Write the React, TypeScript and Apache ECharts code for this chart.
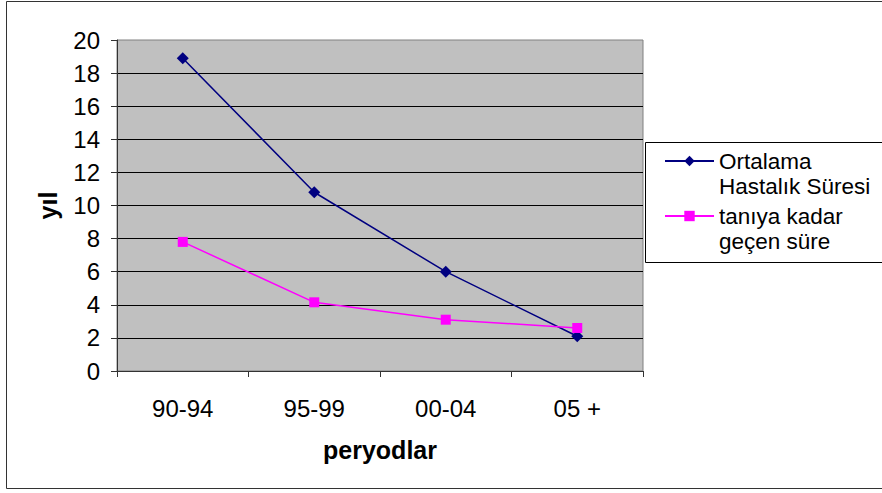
import React, { useEffect, useRef } from "react";
import * as echarts from "echarts";

const categories = ["90-94", "95-99", "00-04", "05 +"];
const ortalamaValues = [18.9, 10.8, 6.0, 2.1];
const taniyaValues = [7.8, 4.15, 3.1, 2.6];
const seriesNames = ["Ortalama\nHastalık Süresi", "tanıya kadar\ngeçen süre"];
const yTitle = "yıl";
const xTitle = "peryodlar";

const FONT = "'Liberation Sans', Arial, sans-serif";

export default function App() {
  const ref = useRef<HTMLDivElement>(null);
  useEffect(() => {
    if (!ref.current) return;
    const chart = echarts.init(ref.current, undefined, { renderer: "svg" });
    chart.setOption({
      animation: false,
      backgroundColor: "#ffffff",
      textStyle: { fontFamily: FONT },
      grid: {
        left: 117,
        top: 40,
        right: 239,
        bottom: 122,
        show: true,
        backgroundColor: "#C0C0C0",
        borderColor: "#808080",
        borderWidth: 1,
      },
      graphic: [
        {
          type: "rect",
          shape: { x: 6.5, y: 1.5, width: 900, height: 487 },
          style: { fill: "none", stroke: "#333", lineWidth: 1 },
          silent: true,
          z: 100,
        },
        {
          type: "rect",
          shape: { x: 645.5, y: 142.5, width: 300, height: 120 },
          style: { fill: "#fff", stroke: "#000", lineWidth: 1 },
          silent: true,
          z: 0,
        },
      ],
      legend: {
        orient: "vertical",
        left: 664,
        top: 123.5,
        padding: 0,
        itemGap: -20,
        itemWidth: 49,
        itemHeight: 13,
        selectedMode: false,
        z: 10,
        formatter: (name: string) => "\n" + name,
        textStyle: {
          fontFamily: FONT,
          fontSize: 22.5,
          color: "#000",
          lineHeight: 25,
        },
        data: seriesNames,
      },
      xAxis: {
        type: "category",
        data: categories,
        boundaryGap: true,
        name: xTitle,
        nameLocation: "middle",
        nameGap: 66,
        nameTextStyle: { fontFamily: FONT, fontSize: 25, fontWeight: "bold", color: "#000" },
        axisLine: { lineStyle: { color: "#333", width: 1 } },
        axisTick: { show: true, inside: false, length: 6, lineStyle: { color: "#333" } },
        axisLabel: { fontFamily: FONT, fontSize: 24, color: "#000", margin: 25 },
        splitLine: { show: false },
      },
      yAxis: {
        type: "value",
        min: 0,
        max: 20,
        interval: 2,
        name: yTitle,
        nameLocation: "middle",
        nameGap: 57,
        nameRotate: 90,
        nameTextStyle: { fontFamily: FONT, fontSize: 25, fontWeight: "bold", color: "#000" },
        axisLine: { show: true, lineStyle: { color: "#333", width: 1 } },
        axisTick: { show: true, inside: false, length: 6, lineStyle: { color: "#333" } },
        axisLabel: { fontFamily: FONT, fontSize: 24, color: "#000", margin: 17 },
        splitLine: { show: true, showMinLine: false, showMaxLine: false, lineStyle: { color: "#000", width: 1 } },
      },
      series: [
        {
          name: seriesNames[0],
          type: "line",
          data: ortalamaValues,
          color: "#000080",
          symbol: "diamond",
          symbolSize: 12,
          lineStyle: { color: "#000080", width: 1.5 },
          itemStyle: { color: "#000080" },
          z: 3,
        },
        {
          name: seriesNames[1],
          type: "line",
          data: taniyaValues,
          color: "#FF00FF",
          symbol: "rect",
          symbolSize: 10,
          lineStyle: { color: "#FF00FF", width: 1.5 },
          itemStyle: { color: "#FF00FF" },
          z: 4,
        },
      ],
    });
    return () => chart.dispose();
  }, []);
  return (
    <div
      ref={ref}
      style={{ position: "fixed", left: 0, top: 0, width: 882, height: 493 }}
    />
  );
}
